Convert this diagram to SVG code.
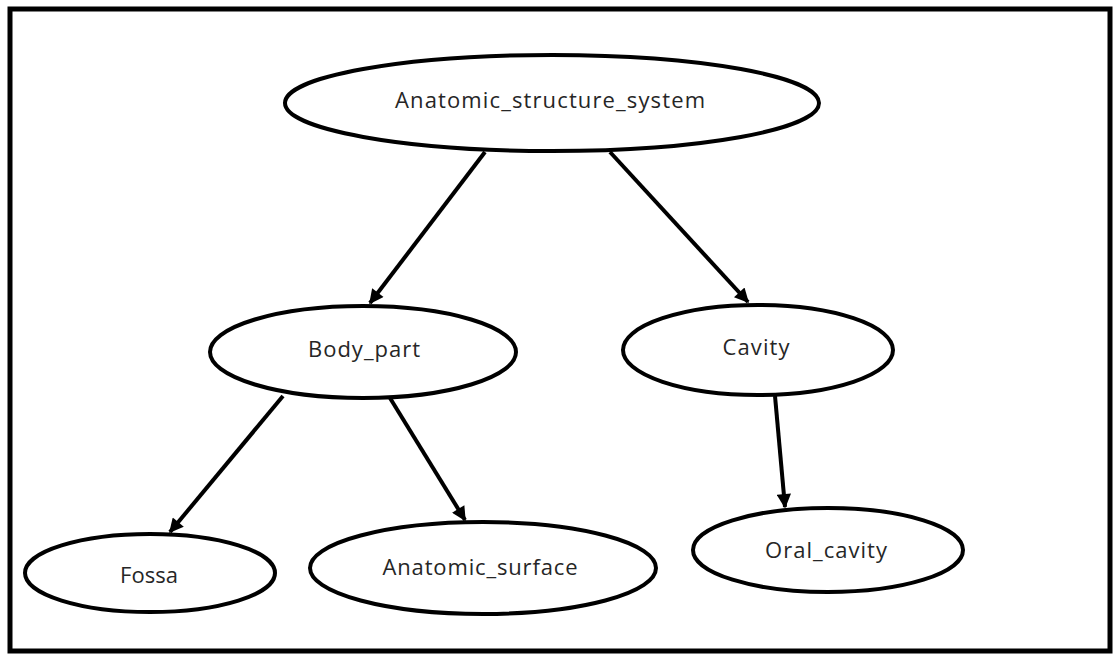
<svg xmlns="http://www.w3.org/2000/svg" width="1118" height="655" viewBox="0 0 1118 655">
  <style>
    .node ellipse { fill: #ffffff; stroke: #000000; stroke-width: 4; }
    .node text { font-family: "Open Sans", "Liberation Sans", sans-serif; font-size: 22px; fill: #262626; text-anchor: middle; }
    .edge { stroke: #000000; stroke-width: 4; fill: none; marker-end: url(#arrow); }
  </style>
  <defs>
    <marker id="arrow" viewBox="0 0 10 10" refX="9" refY="5" markerWidth="4" markerHeight="3.6" orient="auto" markerUnits="strokeWidth">
      <path d="M0,0 L10,5 L0,10 z" fill="#000000"/>
    </marker>
  </defs>
  <rect x="0" y="0" width="1118" height="655" fill="#ffffff"/>
  <!-- outer frame -->
  <rect x="10" y="9" width="1100" height="642" fill="none" stroke="#000000" stroke-width="5"/>

  <g id="connectors">
    <line class="edge" x1="485" y1="152" x2="370" y2="303"/>
    <line class="edge" x1="610" y1="152" x2="748" y2="302"/>
    <line class="edge" x1="283" y1="396" x2="170" y2="532"/>
    <line class="edge" x1="390" y1="398" x2="465" y2="520"/>
    <line class="edge" x1="775" y1="396" x2="785" y2="507"/>
  </g>

  <g id="anatomic_structure_system" class="node">
    <ellipse cx="552" cy="103" rx="267" ry="48"/>
    <text x="550" y="108" textLength="310">Anatomic_structure_system</text>
  </g>
  <g id="body_part" class="node">
    <ellipse cx="363" cy="352" rx="153" ry="46"/>
    <text x="364" y="357" textLength="112">Body_part</text>
  </g>
  <g id="cavity" class="node">
    <ellipse cx="758" cy="350" rx="135" ry="45"/>
    <text x="756" y="355" textLength="67">Cavity</text>
  </g>
  <g id="fossa" class="node">
    <ellipse cx="150" cy="573" rx="125" ry="39"/>
    <text x="149" y="583" textLength="58">Fossa</text>
  </g>
  <g id="anatomic_surface" class="node">
    <ellipse cx="483" cy="568" rx="173" ry="46"/>
    <text x="480" y="575" textLength="195">Anatomic_surface</text>
  </g>
  <g id="oral_cavity" class="node">
    <ellipse cx="828" cy="550" rx="135" ry="42"/>
    <text x="826" y="558" textLength="122">Oral_cavity</text>
  </g>
</svg>
